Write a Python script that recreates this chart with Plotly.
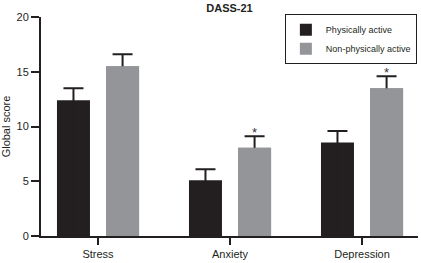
import plotly.graph_objects as go

categories = ["Stress", "Anxiety", "Depression"]
active_values = [12.4, 5.1, 8.55]
active_err = [1.1, 1.0, 1.05]
inactive_values = [15.5, 8.05, 13.5]
inactive_err = [1.1, 1.05, 1.1]
significant = [False, True, True]
series_names = ["Physically active", "Non-physically active"]
y_ticks = [0, 5, 10, 15, 20]

BLACK = "#231f20"
GRAY = "#939598"
FONT = "Liberation Sans, Arial, sans-serif"

xi = list(range(len(categories)))
W = 0.25
OFF_A = -0.311
OFF_B = 0.061

fig = go.Figure()
fig.add_trace(go.Bar(
    x=xi, y=active_values, name=series_names[0],
    marker=dict(color=BLACK, line=dict(width=0)),
    width=W, offset=OFF_A,
    error_y=dict(type="data", array=active_err, arrayminus=active_values,
                 symmetric=False, color=BLACK, thickness=2, width=10),
))
fig.add_trace(go.Bar(
    x=xi, y=inactive_values, name=series_names[1],
    marker=dict(color=GRAY, line=dict(width=0)),
    width=W, offset=OFF_B,
    error_y=dict(type="data", array=inactive_err, arrayminus=inactive_values,
                 symmetric=False, color=BLACK, thickness=2, width=10),
))
# cover the part of the error bar stem that lies inside the gray bars
fig.add_trace(go.Bar(
    x=xi, y=inactive_values, showlegend=False, hoverinfo="skip",
    marker=dict(color=GRAY, line=dict(width=0)),
    width=W, offset=OFF_B,
))

for i, sig in enumerate(significant):
    if sig:
        fig.add_annotation(
            x=i + OFF_B + W / 2, y=inactive_values[i] + inactive_err[i],
            text="*", showarrow=False, xref="x", yref="y",
            yanchor="middle", yshift=4,
            font=dict(family=FONT, size=13, color="#333344"),
        )

fig.update_layout(
    width=421, height=263,
    margin=dict(l=41, r=3, t=17, b=23),
    paper_bgcolor="white", plot_bgcolor="white",
    barmode="overlay",
    font=dict(family=FONT, size=11, color=BLACK),
    title=dict(text="<b>DASS-21</b>", x=0.5, xref="paper", xanchor="center",
               y=1 - 8 / 263, yanchor="middle",
               font=dict(family=FONT, size=11, color=BLACK)),
    legend=dict(x=0.997, y=1.013, xanchor="right", yanchor="top",
                bgcolor="white", bordercolor=BLACK, borderwidth=1,
                font=dict(family=FONT, size=9, color=BLACK),
                tracegroupgap=0),
    showlegend=True,
)
fig.update_xaxes(
    range=[-0.432, 2.424], tickmode="array", tickvals=xi, ticktext=categories,
    showline=True, linewidth=2, linecolor=BLACK, ticks="outside", ticklen=7,
    tickwidth=2, tickcolor=BLACK, showgrid=False, zeroline=False,
    tickfont=dict(family=FONT, size=11, color=BLACK),
)
fig.update_yaxes(
    range=[0, 20], tickmode="array", tickvals=y_ticks,
    showline=True, linewidth=2, linecolor=BLACK, ticks="outside", ticklen=8,
    tickwidth=2, tickcolor=BLACK, showgrid=False, zeroline=False,
    title=dict(text="Global score", standoff=6,
               font=dict(family=FONT, size=11, color=BLACK)),
    tickfont=dict(family=FONT, size=11, color=BLACK),
)

fig.write_html("out.html",
               config={"displayModeBar": False},
               post_script="document.body.style.margin='0';document.body.style.padding='0';")
